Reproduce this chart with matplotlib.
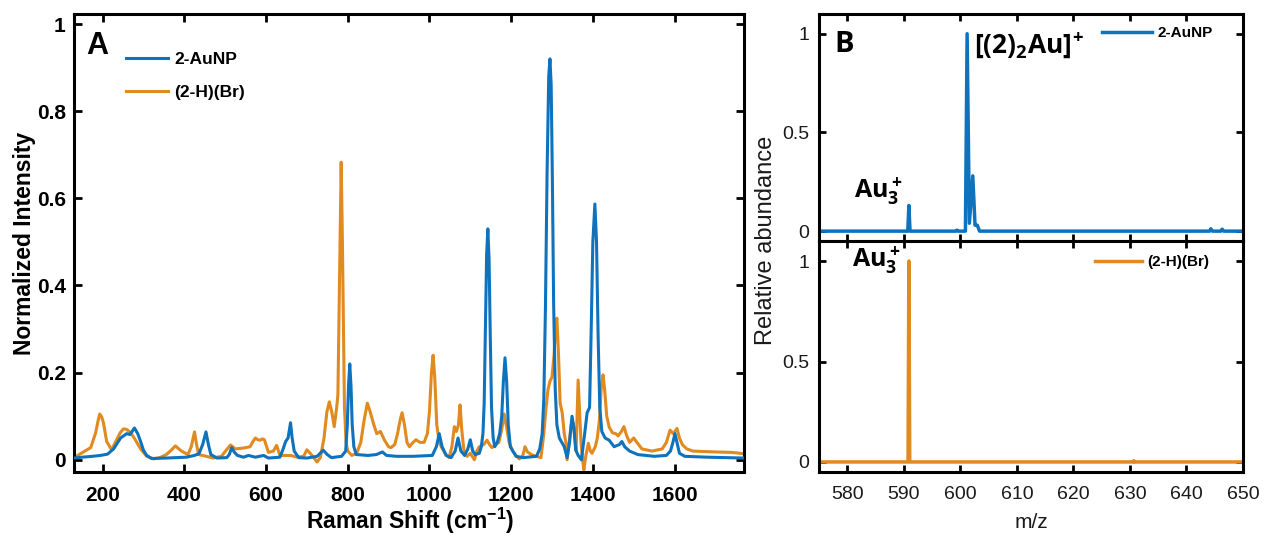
import matplotlib
matplotlib.use("Agg")
import matplotlib.pyplot as plt
import numpy as np

# ---------------- Panel A data (Raman) ----------------
raman_blue_x = [130, 150, 175, 195, 212, 227, 244, 259, 267, 278, 286, 293, 300, 308, 320, 356, 405, 425, 436, 445,
                453, 459, 465, 480, 504, 510, 516, 522, 530, 545, 557, 574, 594, 606, 634, 642, 648, 654, 660, 664,
                669, 680, 700, 725, 740, 750, 760, 785, 795, 799, 802, 805, 808, 811, 815, 821, 850, 870, 885, 895,
                920, 960, 1007, 1017, 1024, 1031, 1041, 1053, 1063, 1070, 1077, 1086, 1094, 1100, 1106, 1112, 1122,
                1127, 1131, 1134, 1137, 1140, 1143, 1146, 1149, 1152, 1156, 1160, 1166, 1172, 1177, 1181, 1185, 1189,
                1193, 1198, 1212, 1230, 1262, 1270, 1276, 1280, 1284, 1288, 1292, 1295, 1298, 1301, 1304, 1308, 1312,
                1318, 1324, 1330, 1337, 1343, 1349, 1354, 1358, 1364, 1372, 1380, 1386, 1392, 1396, 1400, 1405, 1409,
                1413, 1417, 1422, 1430, 1440, 1452, 1465, 1471, 1478, 1490, 1510, 1550, 1580, 1590, 1596, 1601, 1606,
                1612, 1625, 1680, 1770]
raman_blue_y = [0.004, 0.006, 0.008, 0.010, 0.013, 0.025, 0.050, 0.060, 0.058, 0.073, 0.060, 0.042, 0.022, 0.010,
                0.003, 0.004, 0.006, 0.010, 0.014, 0.035, 0.064, 0.035, 0.012, 0.004, 0.005, 0.012, 0.028, 0.018,
                0.010, 0.006, 0.010, 0.006, 0.010, 0.004, 0.006, 0.025, 0.042, 0.050, 0.085, 0.050, 0.020, 0.005,
                0.004, 0.008, 0.022, 0.012, 0.005, 0.008, 0.020, 0.080, 0.170, 0.220, 0.170, 0.080, 0.030, 0.012,
                0.010, 0.012, 0.018, 0.010, 0.008, 0.008, 0.010, 0.030, 0.060, 0.030, 0.010, 0.005, 0.020, 0.050,
                0.020, 0.010, 0.025, 0.046, 0.020, 0.012, 0.015, 0.030, 0.060, 0.130, 0.300, 0.470, 0.530, 0.460,
                0.280, 0.120, 0.050, 0.030, 0.040, 0.060, 0.100, 0.180, 0.234, 0.180, 0.080, 0.030, 0.008, 0.005,
                0.008, 0.025, 0.060, 0.140, 0.350, 0.660, 0.880, 0.920, 0.860, 0.640, 0.360, 0.160, 0.080, 0.050,
                0.040, 0.030, 0.005, 0.040, 0.100, 0.070, 0.023, 0.010, 0.000, 0.060, 0.108, 0.120, 0.300, 0.500,
                0.587, 0.500, 0.280, 0.120, 0.065, 0.050, 0.045, 0.030, 0.035, 0.042, 0.030, 0.020, 0.012, 0.008,
                0.010, 0.020, 0.040, 0.060, 0.040, 0.015, 0.008, 0.006, 0.004]

raman_orange_x = [130, 134, 153, 171, 183, 189, 193, 198, 202, 210, 222, 234, 243, 251, 258, 264, 272, 280, 293, 308,
                  325, 340, 356, 368, 378, 393, 409, 417, 425, 430, 435, 454, 470, 491, 505, 513, 525, 545, 561, 568,
                  574, 580, 586, 591, 596, 606, 618, 626, 634, 660, 676, 692, 700, 708, 716, 725, 733, 742, 749, 755,
                  761, 767, 773, 776, 779, 781, 784, 787, 789, 792, 796, 800, 810, 822, 832, 840, 848, 855, 864, 871,
                  880, 890, 900, 906, 915, 922, 928, 933, 939, 945, 951, 960, 967, 977, 987, 995, 1000, 1005, 1009,
                  1013, 1018, 1024, 1029, 1040, 1048, 1055, 1061, 1066, 1071, 1075, 1079, 1085, 1092, 1100, 1110,
                  1116, 1122, 1133, 1141, 1147, 1153, 1162, 1170, 1177, 1183, 1189, 1195, 1204, 1212, 1220, 1228,
                  1234, 1240, 1250, 1261, 1273, 1280, 1285, 1290, 1295, 1300, 1305, 1309, 1312, 1316, 1320, 1325,
                  1330, 1334, 1337, 1342, 1347, 1352, 1356, 1359, 1362, 1364, 1367, 1371, 1375, 1378, 1383, 1389,
                  1394, 1398, 1406, 1411, 1416, 1421, 1425, 1429, 1434, 1440, 1448, 1456, 1462, 1470, 1476, 1483,
                  1490, 1500, 1508, 1520, 1545, 1570, 1580, 1589, 1597, 1603, 1606, 1612, 1619, 1630, 1645, 1700,
                  1740, 1770]
raman_orange_y = [0.005, 0.007, 0.018, 0.028, 0.062, 0.090, 0.105, 0.098, 0.085, 0.042, 0.023, 0.045, 0.062, 0.071,
                  0.070, 0.066, 0.058, 0.046, 0.025, 0.008, 0.002, 0.005, 0.012, 0.022, 0.032, 0.020, 0.012, 0.030,
                  0.064, 0.035, 0.012, 0.008, 0.004, 0.008, 0.025, 0.034, 0.025, 0.027, 0.030, 0.042, 0.050, 0.046,
                  0.045, 0.048, 0.046, 0.017, 0.020, 0.033, 0.010, 0.010, 0.006, 0.008, 0.023, 0.015, 0.006, -0.005,
                  0.005, 0.050, 0.110, 0.133, 0.110, 0.076, 0.120, 0.150, 0.350, 0.500, 0.683, 0.500, 0.350, 0.120,
                  0.040, 0.020, 0.010, 0.015, 0.040, 0.090, 0.130, 0.110, 0.080, 0.060, 0.065, 0.045, 0.030, 0.028,
                  0.035, 0.060, 0.090, 0.108, 0.080, 0.040, 0.030, 0.040, 0.046, 0.040, 0.040, 0.060, 0.110, 0.200,
                  0.240, 0.190, 0.080, 0.040, 0.030, 0.012, 0.005, 0.030, 0.076, 0.065, 0.080, 0.126, 0.070, 0.016,
                  0.008, 0.015, 0.000, 0.020, 0.030, 0.035, 0.045, 0.035, 0.028, 0.035, 0.040, 0.070, 0.105, 0.075,
                  0.040, 0.020, 0.010, 0.002, 0.008, 0.030, 0.018, 0.012, 0.008, 0.005, 0.060, 0.115, 0.160, 0.180,
                  0.190, 0.240, 0.310, 0.325, 0.240, 0.130, 0.108, 0.060, 0.040, 0.000, 0.040, 0.080, 0.085, 0.050,
                  0.020, 0.120, 0.183, 0.120, 0.040, 0.000, -0.023, 0.010, 0.038, 0.020, 0.015, 0.030, 0.050, 0.090,
                  0.170, 0.195, 0.160, 0.100, 0.075, 0.062, 0.060, 0.055, 0.065, 0.076, 0.055, 0.040, 0.050, 0.040,
                  0.025, 0.020, 0.025, 0.040, 0.068, 0.060, 0.068, 0.072, 0.050, 0.035, 0.025, 0.020, 0.018, 0.017,
                  0.014]

raman_xticks = [200, 400, 600, 800, 1000, 1200, 1400, 1600]
raman_yticks = [0, 0.2, 0.4, 0.6, 0.8, 1]
raman_ytick_labels = ["0", "0.2", "0.4", "0.6", "0.8", "1"]

# ---------------- Panel B data (mass spectra) ----------------
ms_top_mz = [575, 590.7, 590.9, 591.1, 599.2, 599.4, 599.6, 600.9, 601.2, 601.6, 602.2, 602.6, 603.0, 603.4,
             644.1, 644.3, 644.6, 646.1, 646.3, 646.6, 650]
ms_top_ab = [0, 0, 0.13, 0, 0, 0.005, 0, 0, 1.0, 0.04, 0.28, 0.03, 0.03, 0, 0, 0.012, 0, 0, 0.01, 0, 0]
ms_bot_mz = [575, 590.75, 590.9, 591.05, 630.6, 630.7, 630.8, 650]
ms_bot_ab = [0, 0, 1.0, 0, 0, 0.006, 0, 0]
ms_xticks = [580, 590, 600, 610, 620, 630, 640, 650]
ms_yticks = [0, 0.5, 1]
ms_ytick_labels = ["0", "0.5", "1"]

label_blue = "2-AuNP"
label_orange = "(2-H)(Br)"

BLUE = "#0E72BD"
ORANGE = "#E08A1F"

plt.rcParams['font.family'] = ['Liberation Sans', 'DejaVu Sans']
plt.rcParams['mathtext.default'] = 'regular'

fig = plt.figure(figsize=(12.66, 5.41), dpi=100)
W, H = 1266, 541

def ax_rect(x0, y0, x1, y1):
    return [x0 / W, (H - y1) / H, (x1 - x0) / W, (y1 - y0) / H]

# ---------- Panel A ----------
axA = fig.add_axes(ax_rect(74, 14, 744, 472))
axA.plot(raman_blue_x, raman_blue_y, color=BLUE, lw=2.2, label=label_blue, zorder=3)
axA.plot(raman_orange_x, raman_orange_y, color=ORANGE, lw=2.2, label=label_orange, zorder=2)
axA.set_xlim(130, 1770)
axA.set_ylim(-0.028, 1.023)
axA.set_xticks(raman_xticks)
axA.set_yticks(raman_yticks)
axA.set_yticklabels(raman_ytick_labels)
for sp in axA.spines.values():
    sp.set_linewidth(2.2)
axA.tick_params(direction='in', length=6, width=2, top=True, right=True,
                labelsize=15, pad=6)
axA.tick_params(axis='x', pad=10)
for lab in axA.get_xticklabels() + axA.get_yticklabels():
    lab.set_fontweight('bold')
axA.text(0.018, 0.93, "A", transform=axA.transAxes, fontsize=22, fontweight='bold',
         ha='left', va='center')
legA = axA.legend(loc='upper left', bbox_to_anchor=((126 - 74) / 670, (472 - 52) / 458),
                  frameon=False, borderpad=0, borderaxespad=0, handlelength=2.4,
                  handletextpad=0.4, labelspacing=1.0, prop={'weight': 'bold', 'size': 12.5})
fig.text(24 / W, (H - 243) / H, "Normalized Intensity", rotation=90, fontsize=16.5,
         fontweight='bold', ha='center', va='center')
fig.text(410 / W, (H - 521) / H, r"Raman Shift (cm$^{-1}$)", fontsize=16.5,
         fontweight='bold', ha='center', va='center')

# ---------- Panel B ----------
axT = fig.add_axes(ax_rect(819, 14, 1243, 241))
axB = fig.add_axes(ax_rect(819, 241, 1243, 472))
axT.plot(ms_top_mz, ms_top_ab, color=BLUE, lw=2.5, label=label_blue)
axB.plot(ms_bot_mz, ms_bot_ab, color=ORANGE, lw=2.5, label=label_orange)
for ax in (axT, axB):
    ax.set_xlim(575, 650)
    ax.set_ylim(-0.05, 1.1)
    ax.set_xticks(ms_xticks)
    ax.set_yticks(ms_yticks)
    ax.set_yticklabels(ms_ytick_labels)
    for sp in ax.spines.values():
        sp.set_linewidth(2.2)
    ax.tick_params(direction='in', length=5, width=2, top=True, right=True,
                   labelsize=14, pad=7, labelcolor='#1a1a1a')
axT.tick_params(axis='x', labelbottom=False)
axB.tick_params(axis='x', pad=10)

OS = ['Open Sans', 'DejaVu Sans']
axT.text(0.036, 0.865, "B", transform=axT.transAxes, fontsize=21, fontweight='bold',
         family=OS, ha='left', va='center')
axT.text(602.5, 0.94, r"$[(2)_2Au]^{\!+}$", fontsize=19, fontweight='bold',
         family=OS, ha='left', va='center')
axT.text(581.2, 0.2, r"$Au_3^+$", fontsize=18, fontweight='bold',
         family=OS, ha='left', va='center')
axB.text(580.9, 1.0, r"$Au_3^+$", fontsize=18, fontweight='bold',
         family=OS, ha='left', va='center')

axT.legend(loc='upper left', bbox_to_anchor=((1102 - 819) / 424, (241 - 26) / 227),
           frameon=False, borderpad=0, borderaxespad=0, handlelength=3.3,
           handletextpad=0.3, prop={'weight': 'bold', 'size': 11})
axB.legend(loc='upper left', bbox_to_anchor=((1095 - 819) / 424, (472 - 255) / 231),
           frameon=False, borderpad=0, borderaxespad=0, handlelength=3.1,
           handletextpad=0.35, prop={'weight': 'bold', 'size': 11})

fig.text(766 / W, (H - 240) / H, "Relative abundance", rotation=90, fontsize=17,
         ha='center', va='center', color='#1a1a1a')
fig.text(1031 / W, (H - 522) / H, "m/z", fontsize=15, ha='center', va='center', color='#1a1a1a')

fig.savefig("out.png", dpi=100)
